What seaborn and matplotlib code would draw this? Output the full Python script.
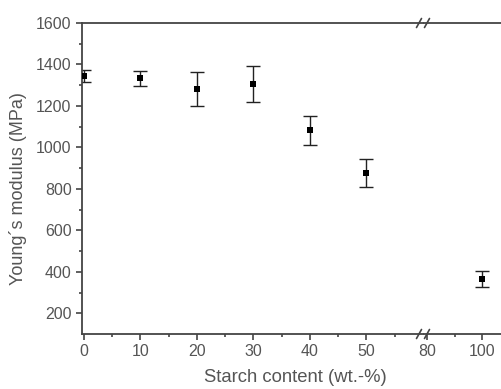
import numpy as np
import pandas as pd
import matplotlib
matplotlib.use("Agg")
import matplotlib.pyplot as plt
from matplotlib.lines import Line2D
import seaborn as sns

# Young's modulus vs starch content
starch = [0, 10, 20, 30, 40, 50, 100]
modulus = [1345, 1333, 1281, 1306, 1082, 875, 365]
modulus_err = [30, 36, 82, 89, 70, 68, 38]

df = pd.DataFrame({"starch": starch, "modulus": modulus, "err": modulus_err})
left_part = df[df["starch"] <= 60]
right_part = df[df["starch"] >= 80]

sns.set_theme(style="ticks")
plt.rcParams["font.family"] = ["Liberation Sans", "DejaVu Sans"]
grey = "#555555"
axis_col = "#444444"

W, H = 502, 389
fig = plt.figure(figsize=(W / 100, H / 100), dpi=100)
bot, top = 1 - 334 / H, 1 - 23 / H
ax1 = fig.add_axes([82 / W, bot, (423 - 82) / W, top - bot])
ax2 = fig.add_axes([424 / W, bot, 1 - 424 / W, top - bot], sharey=ax1)

for ax, part in [(ax1, left_part), (ax2, right_part)]:
    ax.errorbar(part["starch"], part["modulus"], yerr=part["err"], fmt="none",
                ecolor="#222222", elinewidth=1.0, capsize=4.7, capthick=1.0)
    sns.scatterplot(data=part, x="starch", y="modulus", ax=ax, marker="s",
                    color="black", s=18, edgecolor="black", linewidth=0, zorder=3)
    for side in ["left", "bottom", "top", "right"]:
        ax.spines[side].set_color(axis_col)
        ax.spines[side].set_linewidth(1.3)
    ax.tick_params(colors=axis_col, labelcolor=grey, labelsize=11.5, width=1.2,
                   length=4, direction="out")
    ax.tick_params(which="minor", colors=axis_col, width=1.2, length=2.5, direction="out")
    ax.set_xlabel("")
    ax.set_ylabel("")

ax1.set_xlim(-0.35, 60)
ax1.set_xticks([0, 10, 20, 30, 40, 50])
ax1.set_xticks([5, 15, 25, 35, 45, 55], minor=True)
ax1.set_ylim(100, 1600)
ax1.set_yticks(range(200, 1601, 200))
ax1.set_yticks(range(300, 1600, 200), minor=True)
ax1.spines["right"].set_visible(False)

ax2.set_xlim(78.9, 107.2)
ax2.set_xticks([80, 100])
ax2.set_xticks([90], minor=True)
ax2.spines["left"].set_visible(False)
ax2.spines["right"].set_visible(False)
ax2.tick_params(axis="y", which="both", left=False, labelleft=False)

# "//" break marks on the top and bottom axes
for ypx in [23, 334]:
    for xpx in [419, 427]:
        fig.add_artist(Line2D([(xpx - 2.5) / W, (xpx + 2.5) / W],
                              [1 - (ypx + 4.5) / H, 1 - (ypx - 4.5) / H],
                              color=axis_col, lw=1.2))

fig.text(0.588, 0.008, "Starch content (wt.-%)", color=grey, fontsize=13.3,
         ha="center", va="bottom")
fig.text(0.036, 0.515, "Young\u00b4s modulus (MPa)", color=grey, fontsize=13,
         rotation=90, ha="center", va="center")

fig.savefig("out.png", dpi=100)
